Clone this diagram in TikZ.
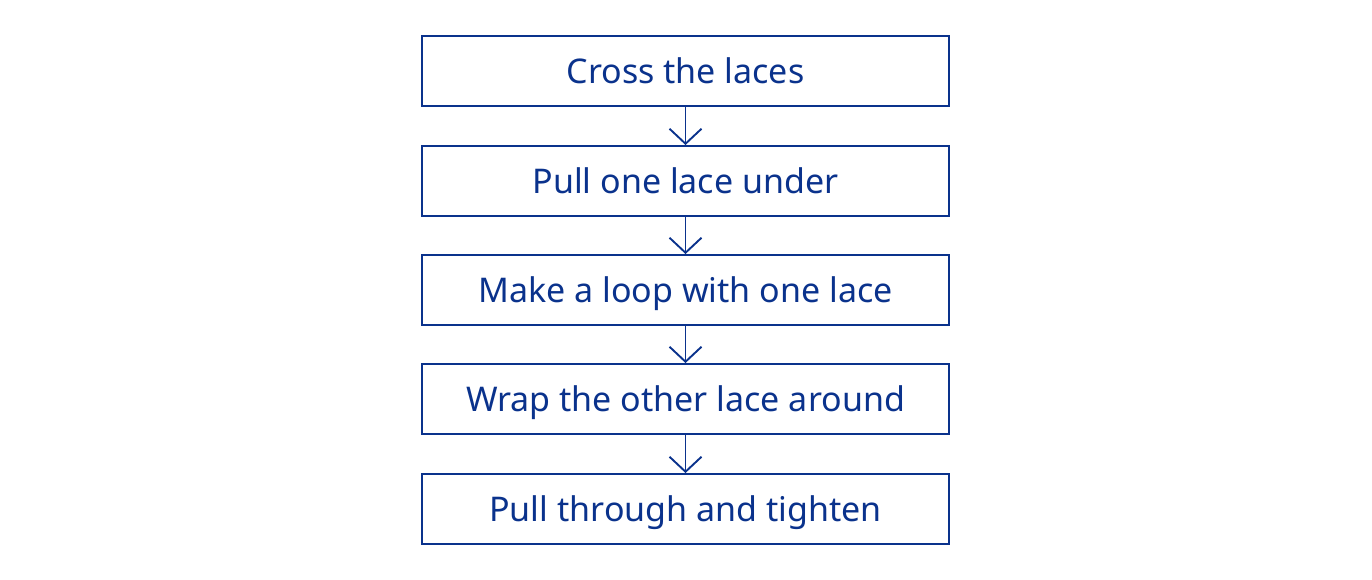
\documentclass[tikz,border=0pt]{standalone}
\usepackage{fontspec}
\setmainfont{Noto Sans}
\usetikzlibrary{arrows.meta}
\definecolor{navy}{RGB}{10,50,140}
\begin{document}
\begin{tikzpicture}[x=1pt,y=-1pt,
  stepbox/.style={draw=navy,line width=1.9pt,minimum width=527pt,minimum height=70pt,inner sep=0pt,text height=24.5pt,text depth=0pt,text=navy,font=\fontsize{34}{40}\selectfont},
  conn/.style={draw=navy,line width=1.9pt,-{Straight Barb[length=15pt,width=32pt,line width=1.9pt]}}]
\useasboundingbox (0,0) rectangle (1372,579);
\node[stepbox] (a) at (685.5,71) {Cross the laces};
\node[stepbox] (b) at (685.5,181) {Pull one lace under};
\node[stepbox] (c) at (685.5,290) {Make a loop with one lace};
\node[stepbox] (d) at (685.5,399) {Wrap the other lace around};
\node[stepbox] (e) at (685.5,509) {Pull through and tighten};
\draw[conn] (a) -- (b);
\draw[conn] (b) -- (c);
\draw[conn] (c) -- (d);
\draw[conn] (d) -- (e);
\end{tikzpicture}
\end{document}
